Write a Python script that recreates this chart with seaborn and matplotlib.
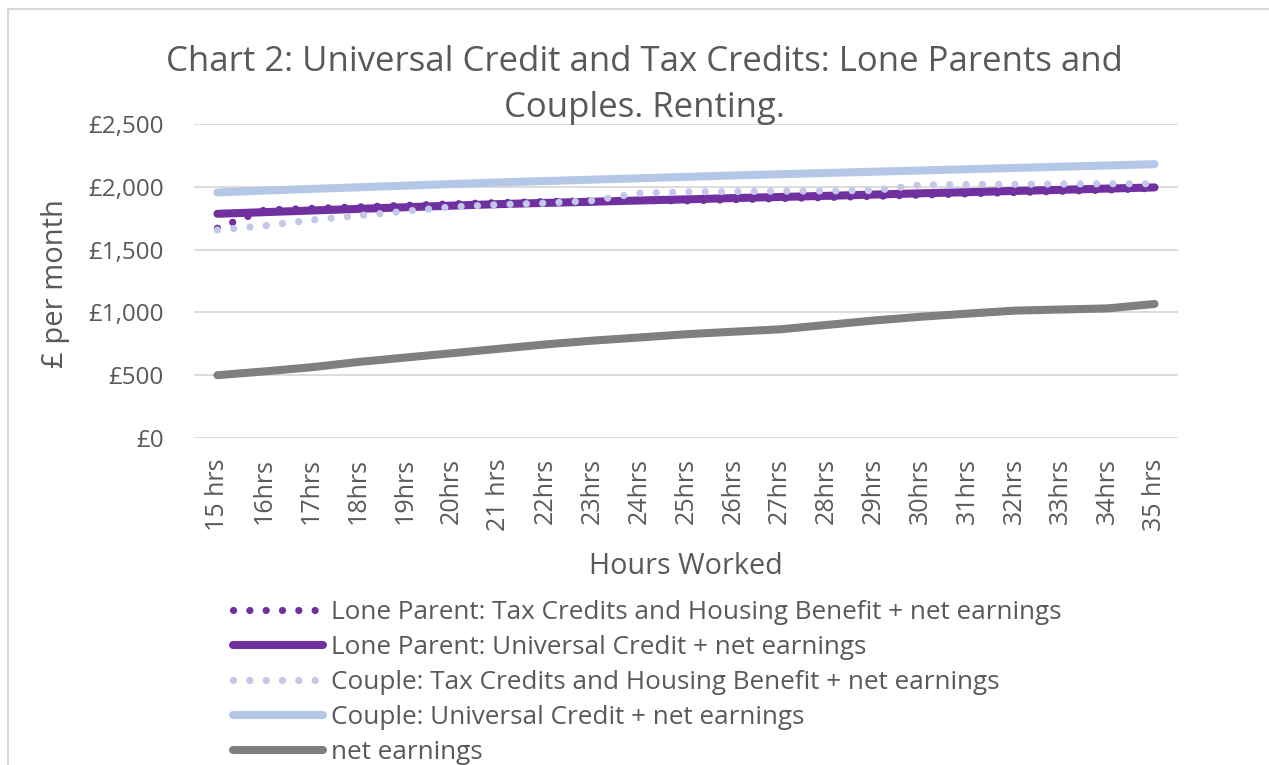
import numpy as np
import pandas as pd
import matplotlib
matplotlib.use("Agg")
import matplotlib.pyplot as plt
from matplotlib.patches import Rectangle
import seaborn as sns

# Hours worked categories and tick labels
hours = list(range(15, 36))
hour_labels = ["15 hrs", "16hrs", "17hrs", "18hrs", "19hrs", "20hrs", "21 hrs",
               "22hrs", "23hrs", "24hrs", "25hrs", "26hrs", "27hrs", "28hrs",
               "29hrs", "30hrs", "31hrs", "32hrs", "33hrs", "34hrs", "35 hrs"]

# Monthly income (GBP) per series
lone_tc = [1670, 1815, 1828, 1840, 1852, 1864, 1874, 1882, 1888, 1890, 1888,
           1897, 1906, 1915, 1924, 1934, 1944, 1954, 1964, 1974, 1988]
lone_uc = [1785, 1798, 1811, 1824, 1837, 1850, 1862, 1872, 1881, 1891, 1900,
           1910, 1919, 1928, 1938, 1948, 1957, 1967, 1976, 1986, 1995]
couple_tc = [1656, 1690, 1735, 1770, 1805, 1840, 1858, 1870, 1890, 1950, 1960,
             1962, 1965, 1967, 1970, 2015, 2018, 2020, 2022, 2024, 2025]
couple_uc = [1955, 1970, 1983, 1996, 2009, 2022, 2035, 2046, 2057, 2068, 2079,
             2090, 2100, 2110, 2120, 2130, 2140, 2150, 2160, 2170, 2180]
net_earnings = [500, 530, 563, 605, 640, 675, 710, 745, 775, 800, 826,
                846, 865, 900, 935, 965, 990, 1014, 1023, 1032, 1067]

series_names = [
    "Lone Parent: Tax Credits and Housing Benefit + net earnings",
    "Lone Parent: Universal Credit + net earnings",
    "Couple: Tax Credits and Housing Benefit + net earnings",
    "Couple: Universal Credit + net earnings",
    "net earnings",
]
series_values = [lone_tc, lone_uc, couple_tc, couple_uc, net_earnings]
series_colors = ["#7030A0", "#7030A0", "#C3C7EA", "#B4C7E7", "#7F7F7F"]
series_dotted = [True, False, True, False, False]

sns.set_theme(style="white")
plt.rcParams["font.family"] = ["Open Sans", "DejaVu Sans"]

TEXT = "#595959"
W, H = 1269, 765
fig = plt.figure(figsize=(W / 100, H / 100), dpi=100)
fig.patch.set_facecolor("white")

# Chart area border (top and left edges visible)
fig.patches.append(Rectangle((8 / W, -0.05), 1.2, 1 - 9 / H + 0.05,
                             transform=fig.transFigure, fill=False,
                             edgecolor="#D9D9D9", linewidth=1.5))

ax = fig.add_axes([194 / W, 1 - 438 / H, (1178 - 194) / W, (438 - 124) / H])

x_pos = np.arange(len(hours))
for name, vals, color, dotted in zip(series_names, series_values,
                                     series_colors, series_dotted):
    df = pd.DataFrame({"pos": x_pos, "value": vals})
    sns.lineplot(data=df, x="pos", y="value", ax=ax, color=color,
                 linewidth=5.2 if dotted else 5.8, label=name,
                 solid_capstyle="round")
    line = ax.lines[-1]
    if dotted:
        line.set_linestyle((0, (0.01, 2.25)))
        line.set_dash_capstyle("round")

ax.set_xlim(-0.5, len(hours) - 0.5)
ax.set_ylim(0, 2500)
ax.set_yticks(np.arange(0, 2501, 500))
ax.set_yticklabels([f"£{v:,.0f}" for v in np.arange(0, 2501, 500)])
ax.set_xticks(x_pos)
ax.set_xticklabels(hour_labels, rotation=90)
ax.tick_params(axis="both", length=0, colors=TEXT)
ax.tick_params(axis="y", pad=22, labelsize=17.5)
ax.tick_params(axis="x", pad=14.5, labelsize=18)
ax.grid(axis="y", color="#D9D9D9", linewidth=1.3)
ax.grid(axis="x", visible=False)
for s in ax.spines.values():
    s.set_visible(False)
ax.set_axisbelow(True)

ax.set_xlabel("")
ax.set_ylabel("")
fig.text(686 / W, 1 - 566 / H, "Hours Worked", ha="center", va="center",
         fontsize=20.7, color=TEXT)
fig.text(55 / W, 1 - 284 / H, "£ per month", ha="center", va="center",
         rotation=90, fontsize=21, color=TEXT)

fig.text(644 / W, 1 - 62 / H, "Chart 2: Universal Credit and Tax Credits: Lone Parents and",
         ha="center", va="center", fontsize=25, color=TEXT)
fig.text(644 / W, 1 - 108 / H, "Couples. Renting.",
         ha="center", va="center", fontsize=25, color=TEXT)

handles, labels = ax.get_legend_handles_labels()
leg = fig.legend(handles, labels, loc="upper left",
                 bbox_to_anchor=(233 / W, 1 - 600 / H), frameon=False,
                 fontsize=18.8, handlelength=3.45, handletextpad=0.3,
                 labelspacing=0.38, borderpad=0, borderaxespad=0)
for t in leg.get_texts():
    t.set_color(TEXT)
if ax.get_legend() is not None:
    ax.get_legend().remove()

fig.savefig("out.png", dpi=100, facecolor="white")
